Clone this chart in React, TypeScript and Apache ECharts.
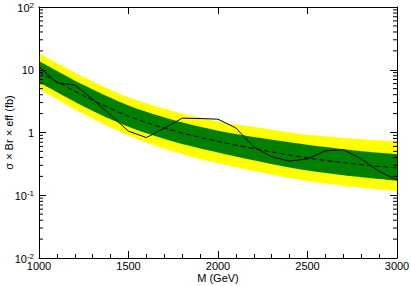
import React, { useEffect, useRef } from "react";
import * as echarts from "echarts";

// Observed limit (solid line), GeV -> fb
const OBS_MASS = [1000, 1100, 1200, 1300, 1400, 1500, 1600, 1700, 1800, 1900, 2000, 2100, 2200, 2300, 2400, 2500, 2600, 2700, 2800, 2900, 3000];
const OBS_VALUES = [11.2, 6.2, 5.7, 3.4, 1.9, 1.05, 0.83, 1.17, 1.69, 1.67, 1.63, 1.18, 0.59, 0.41, 0.35, 0.38, 0.51, 0.53, 0.38, 0.24, 0.175];

// Expected limit and bands
const EXP_MASS = [1000, 1250, 1500, 1750, 2000, 2250, 2500, 2750, 3000];
const EXP_VALUES = [9.2, 3.85, 1.82, 1.07, 0.72, 0.52, 0.393, 0.318, 0.272];
const GREEN_UP = [13.8, 5.69, 2.69, 1.58, 1.07, 0.807, 0.637, 0.522, 0.451];
const GREEN_DOWN = [6.3, 2.6, 1.23, 0.716, 0.479, 0.337, 0.248, 0.201, 0.171];
const YELLOW_UP = [18.4, 7.67, 3.63, 2.19, 1.51, 1.17, 0.92, 0.8, 0.715];
const YELLOW_DOWN = [4.94, 1.97, 0.89, 0.5, 0.324, 0.228, 0.168, 0.136, 0.116];

const Y_MINOR = [0.02, 0.03, 0.04, 0.05, 0.06, 0.07, 0.08, 0.09, 0.2, 0.3, 0.4, 0.5, 0.6, 0.7, 0.8, 0.9, 2, 3, 4, 5, 6, 7, 8, 9, 20, 30, 40, 50, 60, 70, 80, 90];

const X_MIN = 1000;
const X_MAX = 3000;

const FONT = "Liberation Sans, Arial, Helvetica, sans-serif";

function zip(xs: number[], ys: number[]) {
  return xs.map((x, i) => [x, ys[i]]);
}

function yLabel(v: number) {
  const e = Math.round(Math.log10(v));
  if (e === 0) return "{b|1}";
  if (e === 1) return "{b|10}";
  return "{b|10}{s|" + e + "}";
}

export default function App() {
  const ref = useRef<HTMLDivElement>(null);
  useEffect(() => {
    if (!ref.current) return;
    const chart = echarts.init(ref.current, undefined, { renderer: "svg" });
    const band = (data: number[], color: string) => ({
      type: "line",
      data: zip(EXP_MASS, data),
      smooth: 0.3,
      showSymbol: false,
      symbol: "none",
      lineStyle: { opacity: 0, width: 0 },
      areaStyle: { color, opacity: 1, origin: "start" },
      silent: true,
      z: 2,
    });
    chart.setOption({
      animation: false,
      grid: { left: 39, right: 14, top: 7, bottom: 28, containLabel: false, outerBoundsMode: "none" },
      xAxis: [
        {
          type: "value",
          min: X_MIN,
          max: X_MAX,
          interval: 500,
          z: 5,
          name: "M (GeV)",
          nameLocation: "middle",
          nameGap: 14,
          nameMoveOverlap: false,
          nameTextStyle: { fontFamily: FONT, fontSize: 11, color: "#000" },
          axisLine: { lineStyle: { color: "#000", width: 1 } },
          axisTick: { inside: true, length: 7, lineStyle: { color: "#000" } },
          minorTick: { show: true, splitNumber: 5, length: 4, lineStyle: { color: "#000" } },
          splitLine: { show: false },
          axisLabel: { fontFamily: FONT, fontSize: 11, color: "#000", margin: 2, formatter: (v: number) => String(v) },
        },
        {
          type: "value",
          position: "top",
          min: X_MIN,
          max: X_MAX,
          interval: 500,
          z: 5,
          axisLine: { lineStyle: { color: "#000", width: 1 } },
          axisTick: { inside: true, length: 7, lineStyle: { color: "#000" } },
          splitLine: { show: false },
          axisLabel: { show: false },
        },
      ],
      yAxis: [
        {
          type: "log",
          logBase: 10,
          min: 0.01,
          max: 100,
          z: 5,
          name: "σ × Br × eff (fb)",
          nameLocation: "middle",
          nameGap: 25,
          nameMoveOverlap: false,
          nameRotate: 90,
          nameTextStyle: { fontFamily: FONT, fontSize: 11, color: "#000" },
          axisLine: { show: true, lineStyle: { color: "#000", width: 1 } },
          axisTick: { inside: true, length: 7, lineStyle: { color: "#000" } },
          splitLine: { show: false },
          axisLabel: {
            margin: 5,
            formatter: (v: number) => yLabel(v),
            rich: {
              b: { fontFamily: FONT, fontSize: 11, color: "#000", verticalAlign: "bottom", lineHeight: 12 },
              s: { fontFamily: FONT, fontSize: 8, color: "#000", verticalAlign: "top", padding: [0, 0, 8, 0], lineHeight: 10 },
            },
          },
        },
        {
          type: "log",
          logBase: 10,
          min: 0.01,
          max: 100,
          position: "right",
          z: 5,
          axisLine: { show: true, lineStyle: { color: "#000", width: 1 } },
          axisTick: { inside: true, length: 7, lineStyle: { color: "#000" } },
          splitLine: { show: false },
          axisLabel: { show: false },
        },
      ],
      series: [
        band(YELLOW_UP, "#ffff00"),
        band(GREEN_UP, "#008000"),
        band(GREEN_DOWN, "#ffff00"),
        band(YELLOW_DOWN, "#ffffff"),
        {
          type: "line",
          data: zip(EXP_MASS, EXP_VALUES),
          smooth: 0.3,
          showSymbol: false,
          symbol: "none",
          lineStyle: { color: "#000", width: 1, type: [5, 3] },
          z: 3,
        },
        {
          type: "line",
          data: zip(OBS_MASS, OBS_VALUES),
          showSymbol: false,
          symbol: "none",
          lineStyle: { color: "#000", width: 1 },
          z: 3,
        },
        {
          type: "custom",
          coordinateSystem: "cartesian2d",
          xAxisIndex: 0,
          yAxisIndex: 0,
          data: Y_MINOR.map((v) => [X_MIN, v]),
          z: 6,
          silent: true,
          clip: false,
          renderItem: (params: any, api: any) => {
            const v = api.value(1);
            const l = api.coord([X_MIN, v]);
            const r = api.coord([X_MAX, v]);
            const style = { stroke: "#000", lineWidth: 1 };
            return {
              type: "group",
              children: [
                { type: "line", shape: { x1: l[0], y1: l[1], x2: l[0] + 4, y2: l[1] }, style },
                { type: "line", shape: { x1: r[0] - 4, y1: r[1], x2: r[0], y2: r[1] }, style },
              ],
            };
          },
        },
      ],
    });
    return () => chart.dispose();
  }, []);
  return <div ref={ref} style={{ position: "fixed", left: 0, top: 0, width: 411, height: 286, background: "#fff" }} />;
}
